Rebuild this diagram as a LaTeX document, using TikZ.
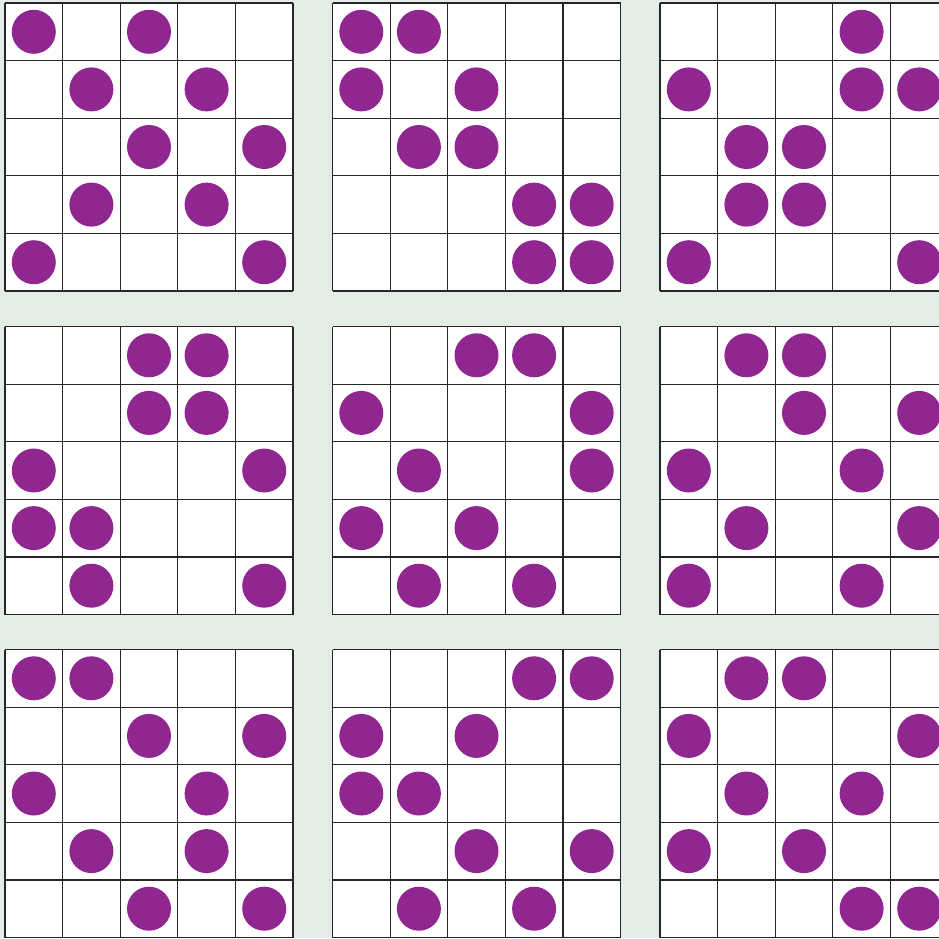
\documentclass[tikz,border=0pt]{standalone}
\usepackage{xcolor}
\definecolor{bgmint}{HTML}{E3EDE6}
\definecolor{pegpurple}{HTML}{90268F}
\tikzset{
  gridline/.style={line width=1.2pt, draw=black!85},
  peg/.style={fill=pegpurple}
}

\begin{document}
\begin{tikzpicture}[x=1pt,y=-1pt]
\def\cell{57.6}
\def\rad{22}
\useasboundingbox (0,0) rectangle (939,938);
\fill[bgmint] (0,0) rectangle (939,938);
\clip (0,0) rectangle (939,938);

% boards: left/top/pegs as col/row
\foreach \boardx/\boardy/\pegs in {
  5/3/{1/1,3/1,2/2,4/2,3/3,5/3,2/4,4/4,1/5,5/5},
  332.5/3/{1/1,2/1,1/2,3/2,2/3,3/3,4/4,5/4,4/5,5/5},
  660/3/{4/1,1/2,4/2,5/2,2/3,3/3,2/4,3/4,1/5,5/5},
  5/326.5/{3/1,4/1,3/2,4/2,1/3,5/3,1/4,2/4,2/5,5/5},
  332.5/326.5/{3/1,4/1,1/2,5/2,2/3,5/3,1/4,3/4,2/5,4/5},
  660/326.5/{2/1,3/1,3/2,5/2,1/3,4/3,2/4,5/4,1/5,4/5},
  5/649.5/{1/1,2/1,3/2,5/2,1/3,4/3,2/4,4/4,3/5,5/5},
  332.5/649.5/{4/1,5/1,1/2,3/2,1/3,2/3,3/4,5/4,2/5,4/5},
  660/649.5/{2/1,3/1,1/2,5/2,2/3,4/3,1/4,3/4,4/5,5/5}} {
  \fill[white] (\boardx,\boardy) rectangle ++(5*\cell,5*\cell);
  \foreach \k in {0,...,5} {
    \draw[gridline] (\boardx+\k*\cell,\boardy) -- ++(0,5*\cell);
    \draw[gridline] (\boardx,\boardy+\k*\cell) -- ++(5*\cell,0);
  }
  \foreach \c/\r in \pegs {
    \fill[peg] (\boardx+\c*\cell-0.5*\cell,\boardy+\r*\cell-0.5*\cell) circle (\rad);
  }
}
\end{tikzpicture}
\end{document}
